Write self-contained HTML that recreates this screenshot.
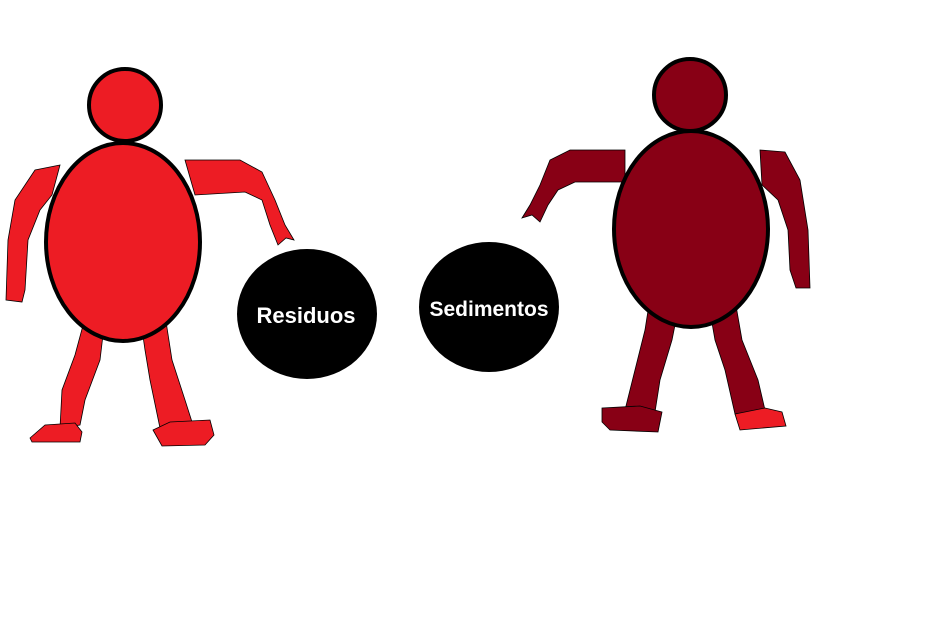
<!DOCTYPE html>
<html><head><meta charset="utf-8"><style>
html,body{margin:0;padding:0;background:#fff;width:946px;height:642px;overflow:hidden}
</style></head><body>
<svg width="946" height="642" viewBox="0 0 946 642">
<g>
  <path d="M60,165 L35,170 L15,200 L8,240 L6,300 L22,302 L25,290 L28,240 L40,210 L52,195 Z" fill="#ed1c24" stroke="#000" stroke-width="0.8"/>
  <path d="M185,160 L240,160 L262,172 L275,200 L285,225 L294,240 L286,238 L278,245 L270,225 L262,200 L245,192 L195,195 Z" fill="#ed1c24" stroke="#000" stroke-width="0.8"/>
  <path d="M85,318 L105,318 L100,360 L85,400 L80,425 L60,428 L62,390 L75,355 Z" fill="#ed1c24" stroke="#000" stroke-width="0.8"/>
  <path d="M140,315 L165,315 L172,360 L185,400 L192,422 L160,428 L150,380 L145,350 Z" fill="#ed1c24" stroke="#000" stroke-width="0.8"/>
  <path d="M30,438 L45,425 L75,423 L82,432 L80,442 L32,442 Z" fill="#ed1c24" stroke="#000" stroke-width="0.8"/>
  <path d="M153,430 L170,422 L210,420 L214,435 L205,445 L162,446 Z" fill="#ed1c24" stroke="#000" stroke-width="0.8"/>
  <ellipse cx="123" cy="242" rx="77" ry="99" fill="#ed1c24" stroke="#000" stroke-width="4"/>
  <circle cx="125" cy="105" r="36" fill="#ed1c24" stroke="#000" stroke-width="4"/>
</g>
<g>
  <ellipse cx="307" cy="314" rx="70" ry="65" fill="#000"/>
  <text x="306" y="323" text-anchor="middle" font-family="Liberation Sans, sans-serif" font-weight="bold" font-size="22" fill="#fff">Residuos</text>
</g>
<g>
  <ellipse cx="489" cy="307" rx="70" ry="65" fill="#000"/>
  <text x="489" y="316" text-anchor="middle" font-family="Liberation Sans, sans-serif" font-weight="bold" font-size="21" fill="#fff">Sedimentos</text>
</g>
<g>
  <path d="M625,150 L570,150 L550,160 L540,185 L530,205 L522,218 L532,215 L540,222 L548,205 L558,190 L575,182 L625,182 Z" fill="#880015" stroke="#000" stroke-width="0.8"/>
  <path d="M760,150 L785,152 L800,180 L808,230 L810,288 L796,288 L790,270 L788,230 L778,200 L762,185 Z" fill="#880015" stroke="#000" stroke-width="0.8"/>
  <path d="M650,298 L680,300 L672,340 L660,380 L655,412 L625,410 L635,370 L645,330 Z" fill="#880015" stroke="#000" stroke-width="0.8"/>
  <path d="M708,300 L735,300 L742,340 L758,380 L765,410 L735,414 L725,370 L715,340 Z" fill="#880015" stroke="#000" stroke-width="0.8"/>
  <path d="M602,408 L640,406 L662,412 L658,432 L610,430 L602,422 Z" fill="#880015" stroke="#000" stroke-width="0.8"/>
  <path d="M735,414 L765,408 L782,412 L786,426 L740,430 Z" fill="#ed1c24" stroke="#000" stroke-width="0.8"/>
  <ellipse cx="691" cy="229" rx="77" ry="98" fill="#880015" stroke="#000" stroke-width="4"/>
  <circle cx="690" cy="95" r="36" fill="#880015" stroke="#000" stroke-width="4"/>
</g>
</svg>
</body></html>
